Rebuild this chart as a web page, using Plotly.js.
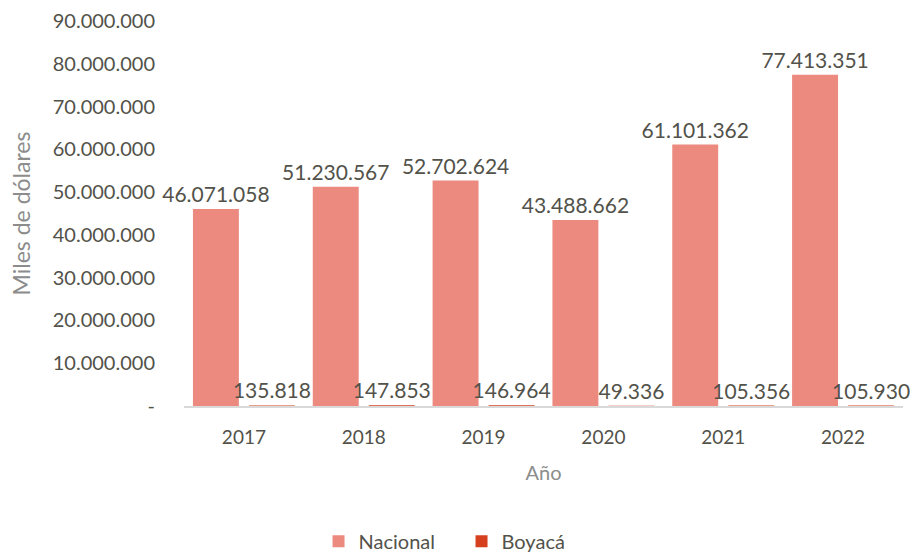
<!DOCTYPE html>
<html><head><meta charset="utf-8">
<script src="https://cdn.plot.ly/plotly-3.0.1.min.js"></script>
<style>html,body{margin:0;padding:0;background:#fff}#chart{width:914px;height:553px}</style>
</head><body><div id="chart"></div>
<script>
const years = ['2017','2018','2019','2020','2021','2022'];
const nacional = [46071058, 51230567, 52702624, 43488662, 61101362, 77413351];
const boyaca = [135818, 147853, 146964, 49336, 105356, 105930];
const yTicks = [0,10000000,20000000,30000000,40000000,50000000,60000000,70000000,80000000,90000000];

function fmt(v){ return v===0 ? '-' : v.toString().replace(/\B(?=(\d{3})+(?!\d))/g,'.'); }
const txtColor = '#52524a';
const font = 'Lato, "Open Sans", sans-serif';

const data = [
  {type:'bar', name:'Nacional', x:years, y:nacional, marker:{color:'#ec8a80'},
   text:nacional.map(fmt), textposition:'outside', cliponaxis:false, constraintext:'none',
   textfont:{size:21,color:txtColor,family:font}},
  {type:'bar', name:'Boyacá', x:years, y:boyaca, marker:{color:'#d6401f'},
   text:boyaca.map(fmt), textposition:'outside', cliponaxis:false, constraintext:'none',
   textfont:{size:21,color:txtColor,family:font}}
];
const layout = {
  width:914, height:553,
  margin:{l:184,r:11,t:21,b:147,autoexpand:false},
  paper_bgcolor:'#fff', plot_bgcolor:'#fff',
  font:{family:font,color:txtColor},
  barmode:'group', bargap:0.065, bargroupgap:0.18,
  showlegend:true,
  legend:{orientation:'h', x:0.386, xanchor:'center', y:-0.351, yanchor:'middle',
          entrywidth:98, font:{size:20,color:txtColor}},
  xaxis:{type:'category', showgrid:false, zeroline:false, showline:true, linecolor:'#d9d9d9', linewidth:1.5,
         ticks:'', tickfont:{size:19,color:txtColor}, ticklabelstandoff:14, automargin:false,
         title:{text:'Año', font:{size:20,color:'#8c8c8c'}, standoff:18}},
  yaxis:{range:[0,90000000], showgrid:false, zeroline:false, showline:false, automargin:false,
         tickvals:yTicks, ticktext:yTicks.map(fmt), ticks:'', ticklabelstandoff:28,
         tickfont:{size:20,color:txtColor},
         title:{text:'Miles de dólares', font:{size:23,color:'#8c8c8c'}, standoff:15}}
};
Plotly.newPlot('chart', data, layout, {displayModeBar:false, staticPlot:true});
</script></body></html>
